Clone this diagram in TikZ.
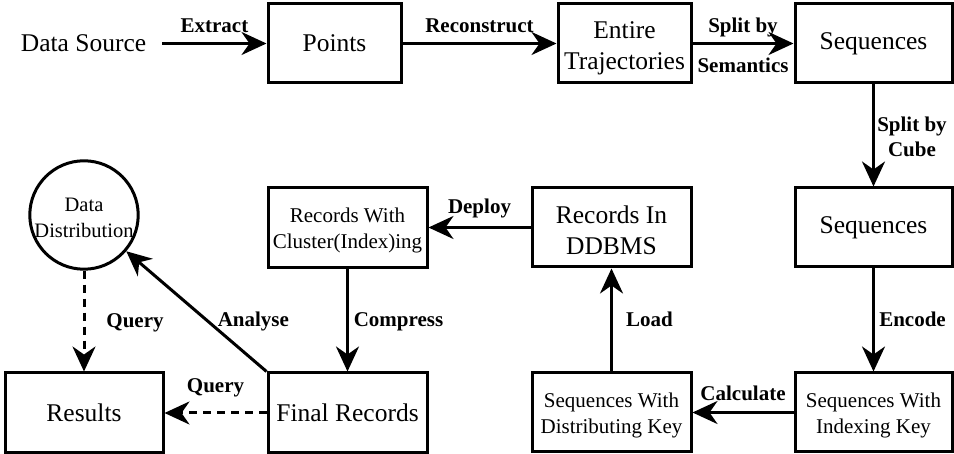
\documentclass[tikz,border=0pt]{standalone}
\usepackage{fontspec}
\setmainfont{Liberation Serif}
\usetikzlibrary{arrows.meta}
% invisible strut that pushes a two-line label down inside its box
\newcommand\topgap[1]{\rule{0pt}{#1}}
\begin{document}
\begin{tikzpicture}[x=1pt, y=-1pt,
  every node/.style={inner sep=0pt},
  box/.style={draw, line width=3pt, minimum height=79pt, align=center,
    font=\fontsize{25.5}{31}\selectfont},
  smallbox/.style={box, font=\fontsize{21}{26}\selectfont},
  arr/.style={line width=3pt, -{Stealth[length=25pt,width=23pt,inset=8pt]}},
  darr/.style={arr, dash pattern=on 8pt off 6pt},
  lbl/.style={font=\fontsize{21}{25}\selectfont\bfseries, align=center},
]
\useasboundingbox (0,0) rectangle (954,454);

% pipeline stages
\node[font=\fontsize{25.5}{31}\selectfont, inner xsep=16pt] (src) at (83.5,43.5) {Data Source};
\node[box, minimum width=133pt] (pts) at (334.5,43.5) {Points};
\node[box, minimum width=133pt] (ent) at (624.5,43.5) {\topgap{25.5pt}Entire\\Trajectories};
\node[box, minimum width=157pt] (seqa) at (873.5,43.5) {Sequences};
\node[box, minimum width=157pt] (seqb) at (873.5,227.5) {Sequences};
\node[smallbox, minimum width=157pt] (swik) at (873.5,412.5) {\topgap{20.3pt}Sequences With\\Indexing Key};
\node[smallbox, minimum width=159pt] (swdk) at (611.5,412.5) {\topgap{20.3pt}Sequences With\\Distributing Key};
\node[box, minimum width=159pt] (rid) at (611.5,227.5) {\topgap{22.5pt}Records In\\DDBMS};
\node[smallbox, minimum width=159pt, minimum height=80pt] (rwci) at (347.5,227.5) {\topgap{20.3pt}Records With\\Cluster(Index)ing};
\node[box, minimum width=159pt, minimum height=80pt] (fin) at (347.5,413) {Final Records};
\node[box, minimum width=158pt, minimum height=80pt] (res) at (84,413) {Results};
\node[circle, draw, line width=3pt, minimum size=106pt, align=center,
  font=\fontsize{20.5}{26}\selectfont] (dd) at (84,215) {\topgap{18.6pt}Data\\Distribution};

% transitions
\draw[arr] (src) -- node[lbl, anchor=base, yshift=10.5pt] {Extract} (pts);
\draw[arr] (pts) -- node[lbl, anchor=base, yshift=10.5pt] {Reconstruct} (ent);
\draw[arr] (ent) -- node[lbl, anchor=base, yshift=10.5pt] {Split by}
                    node[lbl, anchor=base, yshift=-29pt] {Semantics} (seqa);
\draw[arr] (seqa) -- node[lbl, xshift=38.5pt, yshift=-1.5pt] {Split by\\Cube} (seqb);
\draw[arr] (seqb) -- node[lbl, anchor=base, xshift=39pt, yshift=-6.5pt] {Encode} (swik);
\draw[arr] (swik) -- node[lbl, anchor=base, yshift=12pt] {Calculate} (swdk);
\draw[arr] (swdk) -- node[lbl, anchor=base, xshift=38pt, yshift=-6.5pt] {Load} (rid);
\draw[arr] (rid) -- node[lbl, anchor=base, yshift=13.5pt] {Deploy} (rwci);
\draw[arr] (rwci) -- node[lbl, anchor=base, xshift=51pt, yshift=-6pt] {Compress} (fin);
\draw[darr] (fin) -- node[lbl, anchor=base, yshift=20pt] {Query} (res);
\draw[darr] (dd) -- node[lbl, anchor=base, xshift=51pt, yshift=-6pt] {Query} (res);
\draw[arr] (fin.north west) -- node[lbl, anchor=base, xshift=57pt, yshift=-15pt] {Analyse} (dd);
\end{tikzpicture}
\end{document}
